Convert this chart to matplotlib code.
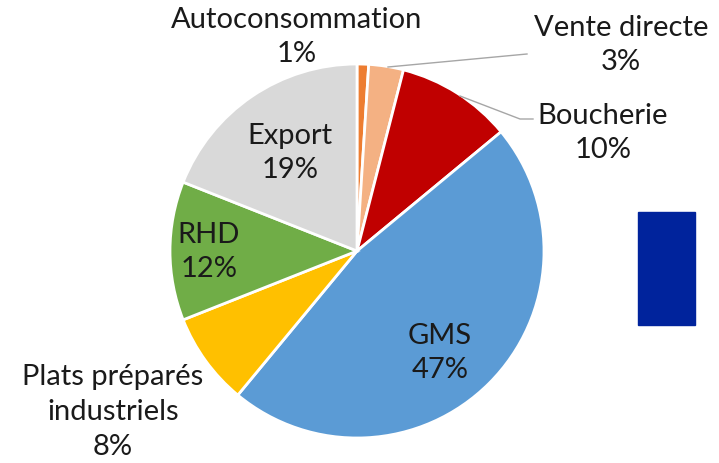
import matplotlib.pyplot as plt
from matplotlib.patches import Rectangle

# parts of the market, clockwise from the top
labels = ["Autoconsommation", "Vente directe", "Boucherie", "GMS",
          "Plats préparés\nindustriels", "RHD", "Export"]
shares = [1, 3, 10, 47, 8, 12, 19]
colors = ["#ED7D31", "#F4B183", "#C00000", "#5B9BD5",
          "#FFC000", "#70AD47", "#D9D9D9"]

# label centres in pixel coordinates (y measured from the bottom)
label_pos = [(297, 427), (621, 419), (603, 331), (440, 111),
             (113, 52), (209, 212), (290, 311)]

plt.rcParams['font.family'] = ['Lato', 'DejaVu Sans']

fig = plt.figure(figsize=(7.19, 4.64), dpi=100)
ax = fig.add_axes([0, 0, 1, 1])

cx, cy, r = 357, 212, 187
ax.pie(shares, colors=colors, startangle=90, counterclock=False,
       center=(cx, cy), radius=r, frame=True,
       wedgeprops=dict(edgecolor='white', linewidth=2))
ax.set_xlim(0, 719)
ax.set_ylim(0, 464)
ax.set_aspect('equal')
ax.axis('off')

for lab, val, (x, y) in zip(labels, shares, label_pos):
    ax.text(x, y, lab + "\n" + str(val) + "%", ha='center', va='center',
            fontsize=21, color='#1a1a1a', linespacing=1.42)

# leader lines
ax.plot([388, 527], [464 - 68, 464 - 55], color='#a6a6a6', lw=1)
ax.plot([460, 520, 533], [464 - 97, 464 - 120, 464 - 120],
        color='#a6a6a6', lw=1)

# blue block on the right
ax.add_patch(Rectangle((638, 138), 57, 113, color='#00239C'))

plt.savefig('out.png', dpi=100)
